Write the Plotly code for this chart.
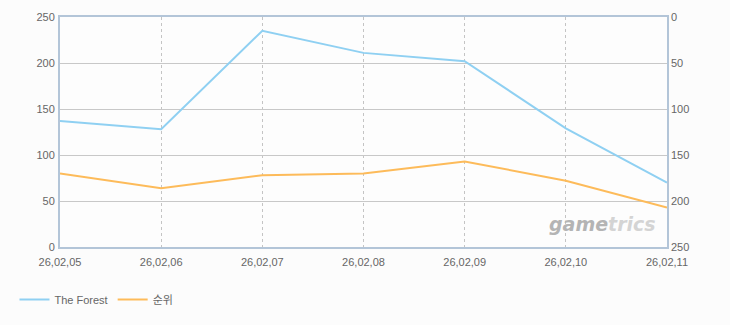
import plotly.graph_objects as go

dates = ["26,02,05", "26,02,06", "26,02,07", "26,02,08", "26,02,09", "26,02,10", "26,02,11"]
forest = [137, 128, 235, 211, 202, 129, 70]
rank = [170, 186, 172, 170, 157, 178, 207]
left_ticks = [0, 50, 100, 150, 200, 250]
right_ticks = [0, 50, 100, 150, 200, 250]

xs = list(range(len(dates)))

fig = go.Figure()
fig.add_trace(go.Scatter(x=xs, y=forest, name="The Forest", mode="lines",
                         line=dict(color="#8fd0f2", width=2), yaxis="y"))
fig.add_trace(go.Scatter(x=xs, y=rank, name="순위", mode="lines",
                         line=dict(color="#fdbb5a", width=2), yaxis="y2"))

fig.add_annotation(text="<b><i><span style='color:#b4b4b4'>game</span><span style='color:#d4d4d4'>trics</span></i></b>",
                   xref="paper", yref="paper",
                   x=0.985, y=0.045, xanchor="right", yanchor="bottom", showarrow=False,
                   font=dict(family="Verdana, DejaVu Sans", size=19, color="#c4c4c4"))

tf = dict(family="Liberation Sans, Arial", size=11, color="#666666")

fig.update_layout(
    width=730, height=325,
    margin=dict(l=60, r=63, t=17, b=77),
    paper_bgcolor="#fcfcfc", plot_bgcolor="#fdfdfd",
    font=dict(family="Liberation Sans, Noto Sans CJK KR", size=11, color="#666666"),
    showlegend=True,
    legend=dict(orientation="h", x=-0.075, y=-0.16, xanchor="left", yanchor="top",
                font=dict(size=11, color="#666666"), bgcolor="rgba(0,0,0,0)",
                itemwidth=30),
    xaxis=dict(range=[0, 6], tickvals=xs, ticktext=dates, showgrid=True,
               gridcolor="#c4c4c4", griddash="3px,3px", gridwidth=1,
               showline=True, linecolor="#b3c5d8", linewidth=2, mirror=True,
               zeroline=False, ticks="", tickfont=tf, ticklabelstandoff=4),
    yaxis=dict(range=[0, 250], tickvals=left_ticks, showgrid=True, gridcolor="#c8c8c8",
               showline=True, linecolor="#b3c5d8", linewidth=2, mirror=True,
               zeroline=False, ticks="", tickfont=tf, ticklabelstandoff=1),
    yaxis2=dict(range=[250, 0], tickvals=right_ticks, overlaying="y", side="right",
                showgrid=False, zeroline=False, ticks="", showline=False,
                tickfont=tf, ticklabelstandoff=3),
)

fig.write_html("out.html")
